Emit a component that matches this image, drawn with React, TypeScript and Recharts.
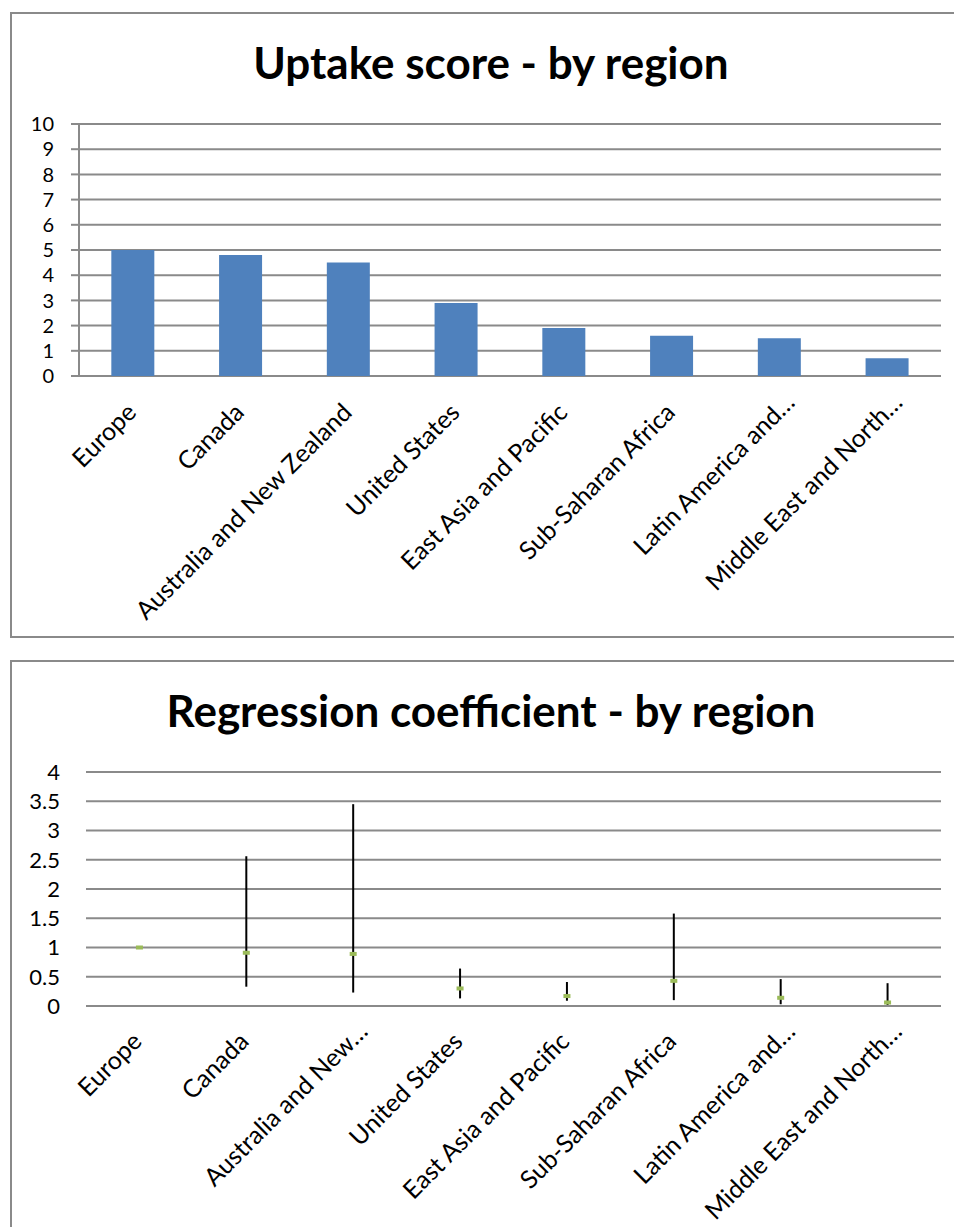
import React from "react";
import {
  Bar,
  BarChart,
  CartesianGrid,
  ComposedChart,
  ErrorBar,
  Line,
  XAxis,
  YAxis,
} from "recharts";

const regions = [
  "Europe",
  "Canada",
  "Australia and New Zealand",
  "United States",
  "East Asia and Pacific",
  "Sub-Saharan Africa",
  "Latin America and Caribbean",
  "Middle East and North Africa",
];

// Excel cut the longer names differently in each chart
const uptakeLabels = [
  "Europe",
  "Canada",
  "Australia and New Zealand",
  "United States",
  "East Asia and Pacific",
  "Sub-Saharan Africa",
  "Latin America and…",
  "Middle East and North…",
];
const coefLabels = [
  "Europe",
  "Canada",
  "Australia and New…",
  "United States",
  "East Asia and Pacific",
  "Sub-Saharan Africa",
  "Latin America and…",
  "Middle East and North…",
];

const uptake = [5.0, 4.8, 4.5, 2.9, 1.9, 1.6, 1.5, 0.7];
const uptakeTicks = [0, 1, 2, 3, 4, 5, 6, 7, 8, 9, 10];
const edgeTicks = [0, 1, 2, 3, 4, 5, 6, 7, 8];

const coef = [1.0, 0.91, 0.89, 0.3, 0.17, 0.43, 0.14, 0.06];
const ciLow = [1.0, 0.33, 0.23, 0.13, 0.09, 0.1, 0.03, 0.01];
const ciHigh = [1.0, 2.56, 3.45, 0.64, 0.41, 1.58, 0.46, 0.39];
const coefTicks = [0, 0.5, 1, 1.5, 2, 2.5, 3, 3.5, 4];

const uptakeData = regions.map((region, i) => ({ region, uptake: uptake[i] }));
const coefData = regions.map((region, i) => ({
  region,
  coef: coef[i],
  ci: [coef[i] - ciLow[i], ciHigh[i] - coef[i]],
}));

const FONT = "Lato, 'Open Sans', sans-serif";
const GRID = "#8a8a8a";

const SlantTick = ({ x, y, payload, labels, size, dx, dy }: any) => {
  const label: string = labels[payload.index];
  // truncated labels sit a little further up the slope in the original
  const cut = label.endsWith("…");
  const ax = x + dx + (cut ? 12 : 0);
  const ay = y + dy - (cut ? 10 : 0);
  return (
    <text
      x={ax}
      y={ay}
      transform={`rotate(-45 ${ax} ${ay})`}
      textAnchor="end"
      fontSize={size}
      fontFamily={FONT}
      fill="#000"
    >
      {label}
    </text>
  );
};

const ValueTick = ({ x, y, payload, size }: any) => (
  <text
    x={x}
    y={y}
    dy={size * 0.36}
    textAnchor="end"
    fontSize={size}
    fontFamily={FONT}
    fill="#000"
  >
    {payload.value}
  </text>
);

const Dash = ({ cx, cy }: any) => {
  if (cx == null || cy == null) return null;
  return <rect x={cx - 3.5} y={cy - 2} width={7} height={4} fill="#9BBB59" />;
};

const boxStyle = (top: number, height: number): React.CSSProperties => ({
  position: "absolute",
  left: 10,
  top,
  width: 958,
  height,
  border: `2px solid ${GRID}`,
  boxSizing: "border-box",
  background: "#fff",
});

const titleStyle = (top: number): React.CSSProperties => ({
  position: "absolute",
  left: 0,
  top,
  width: 958,
  textAlign: "center",
  fontFamily: FONT,
  fontWeight: 700,
  fontSize: 44,
  lineHeight: "44px",
  color: "#000",
});

const App: React.FC = () => {
  return (
    <div
      style={{
        position: "absolute",
        left: 0,
        top: 0,
        width: 954,
        height: 1227,
        overflow: "hidden",
        background: "#fff",
      }}
    >
      <div style={boxStyle(12, 626)}>
        <div style={titleStyle(26)}>Uptake score - by region</div>
        <div style={{ position: "absolute", left: -2, top: -2 }}>
          <BarChart
            width={958}
            height={626}
            data={uptakeData}
            barCategoryGap="30%"
            margin={{ top: 112, right: 27, left: 19, bottom: 10 }}
          >
            <CartesianGrid
              horizontal
              vertical={false}
              stroke={GRID}
              strokeWidth={2}
            />
            <XAxis
              xAxisId="edges"
              type="number"
              domain={[0, 8]}
              ticks={edgeTicks}
              height={0}
              tickSize={8}
              tickFormatter={() => ""}
              axisLine={{ stroke: GRID, strokeWidth: 2 }}
              tickLine={{ stroke: GRID, strokeWidth: 2 }}
            />
            <XAxis
              xAxisId="cat"
              dataKey="region"
              height={252}
              axisLine={false}
              tickLine={false}
              interval={0}
              tick={<SlantTick labels={uptakeLabels} size={25} dx={5} dy={30} />}
            />
            <YAxis
              domain={[0, 10]}
              ticks={uptakeTicks}
              interval={0}
              width={50}
              tickSize={8}
              tickMargin={17}
              axisLine={{ stroke: GRID, strokeWidth: 2 }}
              tickLine={{ stroke: GRID, strokeWidth: 2 }}
              tick={<ValueTick size={20} />}
            />
            <Bar
              xAxisId="cat"
              dataKey="uptake"
              fill="#4F81BD"
              isAnimationActive={false}
            />
          </BarChart>
        </div>
      </div>

      <div style={boxStyle(660, 580)}>
        <div style={titleStyle(26)}>Regression coefficient - by region</div>
        <div style={{ position: "absolute", left: -2, top: -2 }}>
          <ComposedChart
            width={958}
            height={580}
            data={coefData}
            margin={{ top: 112, right: 27, left: 16, bottom: 10 }}
          >
            <CartesianGrid
              horizontal
              vertical={false}
              stroke={GRID}
              strokeWidth={2}
            />
            <XAxis
              dataKey="region"
              scale="band"
              height={224}
              axisLine={{ stroke: GRID, strokeWidth: 2 }}
              tickLine={false}
              interval={0}
              tick={<SlantTick labels={coefLabels} size={25} dx={4} dy={29} />}
            />
            <YAxis
              domain={[0, 4]}
              ticks={coefTicks}
              interval={0}
              width={60}
              tickSize={0}
              tickMargin={26}
              axisLine={false}
              tickLine={false}
              tick={<ValueTick size={22} />}
            />
            <Line
              dataKey="coef"
              stroke="none"
              dot={<Dash />}
              activeDot={false}
              isAnimationActive={false}
            >
              <ErrorBar
                dataKey="ci"
                direction="y"
                width={0}
                stroke="#000"
                strokeWidth={2}
                isAnimationActive={false}
              />
            </Line>
          </ComposedChart>
        </div>
      </div>
    </div>
  );
};

export default App;
